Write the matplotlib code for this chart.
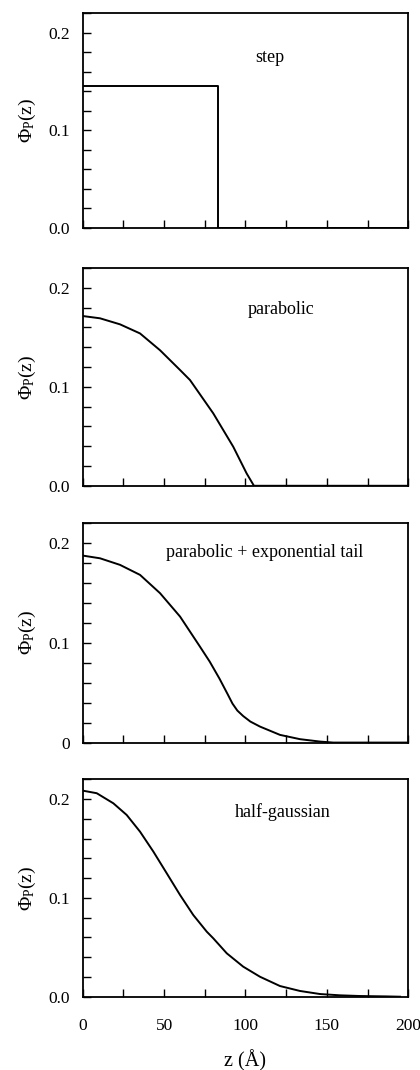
import matplotlib
matplotlib.use("Agg")
import matplotlib.pyplot as plt
from matplotlib.ticker import MultipleLocator

plt.rcParams['font.family'] = ['Liberation Serif', 'DejaVu Serif']
plt.rcParams['mathtext.fontset'] = 'custom'
plt.rcParams['mathtext.rm'] = 'Liberation Serif'
plt.rcParams['mathtext.it'] = 'Liberation Serif:italic'

# values (z in Angstrom)
step_z = [0, 83, 83, 200]
step_phi = [0.1456, 0.1456, 0.0, 0.0]

para_z = [0, 10.6, 22.9, 35.2, 47.5, 59.8, 65.9, 80.2, 92.5, 100.7, 105.2, 200]
para_phi = [0.1716, 0.1693, 0.1632, 0.154, 0.137, 0.117, 0.1069, 0.0732, 0.0394,
            0.0125, 0.0, 0.0]

ptail_z = [0, 10.6, 22.9, 35.2, 47.5, 59.8, 72, 78, 84, 89, 92, 95, 98.6, 103,
           108.9, 121.2, 133.5, 145.8, 154, 200]
ptail_phi = [0.187, 0.1843, 0.1777, 0.1677, 0.1494, 0.126, 0.096, 0.081, 0.064,
             0.0485, 0.039, 0.032, 0.0265, 0.021, 0.016, 0.0077, 0.0034, 0.001,
             0.0, 0.0]

gauss_z = [0, 8.6, 18.8, 27, 35.2, 43.4, 51.6, 59.8, 67.9, 76.2, 80.2, 88.5, 98.6,
           108.9, 121.2, 133.5, 145.8, 158, 170.3, 186.7, 195]
gauss_phi = [0.2085, 0.2059, 0.1957, 0.1839, 0.167, 0.1468, 0.1249, 0.1029, 0.0827,
             0.0658, 0.0591, 0.0439, 0.0304, 0.0202, 0.0108, 0.0058, 0.0027, 0.0014,
             0.0007, 0.0003, 0.0]

names = ['step', 'parabolic', 'parabolic + exponential tail', 'half-gaussian']
zero_labels = ['0.0', '0.0', '0', '0.0']
curves = [(step_z, step_phi), (para_z, para_phi), (ptail_z, ptail_phi), (gauss_z, gauss_phi)]

# label anchor (z, phi) of each panel title
label_pos = [(115, 0.175), (122, 0.178), (112, 0.19), (123, 0.187)]

# axes boxes in figure fractions: left, bottom, width, height
boxes = [
    [0.197, 0.787, 0.775, 0.2005],
    [0.197, 0.546, 0.775, 0.2034],
    [0.197, 0.306, 0.775, 0.2056],
    [0.197, 0.0685, 0.775, 0.2032],
]

fig = plt.figure(figsize=(4.2, 10.7), dpi=100)

for i, (z, phi) in enumerate(curves):
    ax = fig.add_axes(boxes[i])
    ax.plot(z, phi, color='black', lw=1.4)
    ax.set_xlim(0, 200)
    ax.set_ylim(0, 0.22)
    ax.xaxis.set_major_locator(MultipleLocator(25))
    ax.yaxis.set_minor_locator(MultipleLocator(0.02))
    ax.tick_params(which='both', direction='in', top=False, right=False,
                   length=6, width=1, labelsize=12.5, pad=9)
    ax.tick_params(axis='x', pad=15)
    ax.set_yticks([0, 0.1, 0.2])
    ax.set_yticklabels([zero_labels[i], '0.1', '0.2'])
    if i == 3:
        ax.set_xticks([0, 25, 50, 75, 100, 125, 150, 175, 200])
        ax.set_xticklabels(['0', '', '50', '', '100', '', '150', '', '200'])
        ax.set_xlabel('z (Å)', fontsize=14.5, labelpad=12)
    else:
        ax.set_xticklabels([])
    ax.set_ylabel(r'$\Phi_{\rm P}(\rm z)$', fontsize=14, labelpad=8)
    for s in ax.spines.values():
        s.set_linewidth(1.3)
    ax.text(label_pos[i][0], label_pos[i][1], names[i], fontsize=13,
            ha='center', va='center')

fig.savefig('out.png', dpi=100)
